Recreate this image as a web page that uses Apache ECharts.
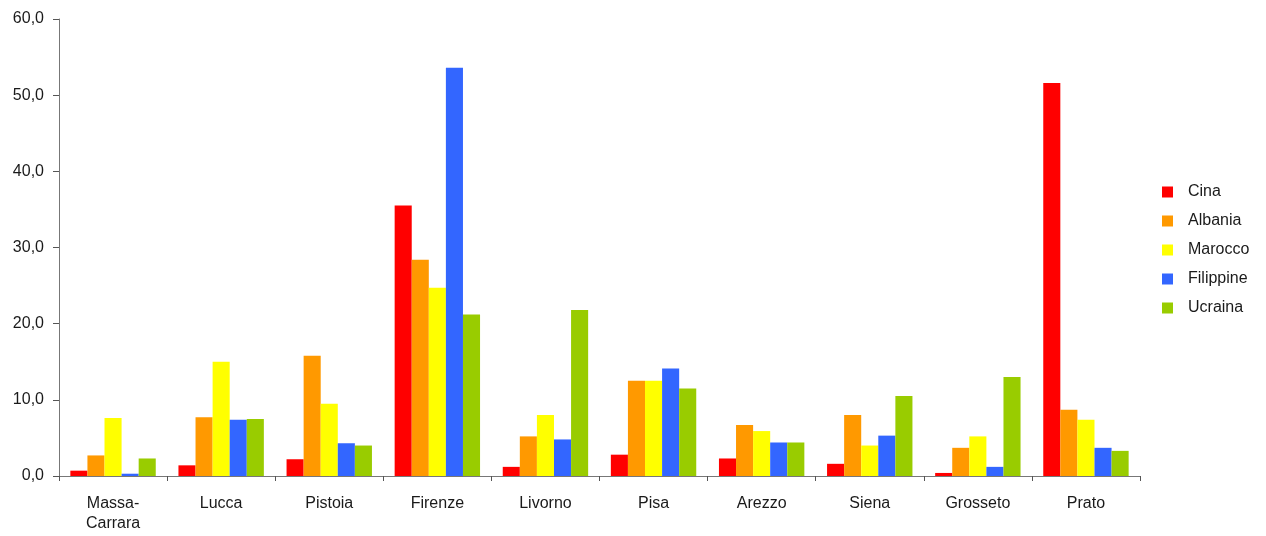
<!DOCTYPE html>
<html>
<head>
<meta charset="utf-8">
<script src="https://cdn.jsdelivr.net/npm/echarts@6/dist/echarts.min.js"></script>
<style>
  html, body { margin: 0; padding: 0; background: #fff; }
  #chart { width: 1266px; height: 536px; }
</style>
</head>
<body>
<div id="chart"></div>
<script>
// Province names along the x axis
const provinces = ['Massa-\nCarrara', 'Lucca', 'Pistoia', 'Firenze', 'Livorno', 'Pisa', 'Arezzo', 'Siena', 'Grosseto', 'Prato'];

// Share (%) of each nationality living in each province
const cina      = [0.7, 1.4, 2.2, 35.5, 1.2, 2.8, 2.3, 1.6, 0.4, 51.6];
const albania   = [2.7, 7.7, 15.8, 28.4, 5.2, 12.5, 6.7, 8.0, 3.7, 8.7];
const marocco   = [7.6, 15.0, 9.5, 24.7, 8.0, 12.5, 5.9, 4.0, 5.2, 7.4];
const filippine = [0.3, 7.4, 4.3, 53.6, 4.8, 14.1, 4.4, 5.3, 1.2, 3.7];
const ucraina   = [2.3, 7.5, 4.0, 21.2, 21.8, 11.5, 4.4, 10.5, 13.0, 3.3];

const seriesNames = ['Cina', 'Albania', 'Marocco', 'Filippine', 'Ucraina'];
const seriesData = [cina, albania, marocco, filippine, ucraina];
const colors = ['#FF0000', '#FF9900', '#FFFF00', '#3366FF', '#99CC00'];

const font = '"Liberation Sans", Arial, sans-serif';
const chart = echarts.init(document.getElementById('chart'));

chart.setOption({
  animation: false,
  backgroundColor: '#ffffff',
  color: colors,
  textStyle: { fontFamily: font },
  grid: { left: 59, top: 19, right: 126, bottom: 60, containLabel: false },
  legend: {
    orient: 'vertical',
    left: 1157,
    top: 178,
    itemWidth: 11,
    itemHeight: 11,
    itemGap: 11,
    icon: 'rect',
    textStyle: { fontFamily: font, fontSize: 16, lineHeight: 18, color: '#1a1a1a', padding: [0, 0, 0, 10] },
    data: seriesNames
  },
  xAxis: {
    type: 'category',
    data: provinces,
    axisLine: { lineStyle: { color: '#777', width: 1 } },
    axisTick: { show: true, length: 5, lineStyle: { color: '#555' } },
    axisLabel: { fontFamily: font, fontSize: 16, color: '#1a1a1a', margin: 18, lineHeight: 20 },
    splitLine: { show: false }
  },
  yAxis: {
    type: 'value',
    min: 0,
    max: 60,
    interval: 10,
    axisLine: { show: true, lineStyle: { color: '#777', width: 1 } },
    axisTick: { show: true, length: 6, lineStyle: { color: '#555' } },
    axisLabel: {
      fontFamily: font, fontSize: 16, color: '#1a1a1a', margin: 15,
      formatter: v => v.toFixed(1).replace('.', ',')
    },
    splitLine: { show: false }
  },
  series: seriesNames.map((name, i) => ({
    name: name,
    type: 'bar',
    data: seriesData[i],
    barGap: '0%',
    barCategoryGap: '21%',
    itemStyle: { color: colors[i] }
  }))
});
</script>
</body>
</html>
